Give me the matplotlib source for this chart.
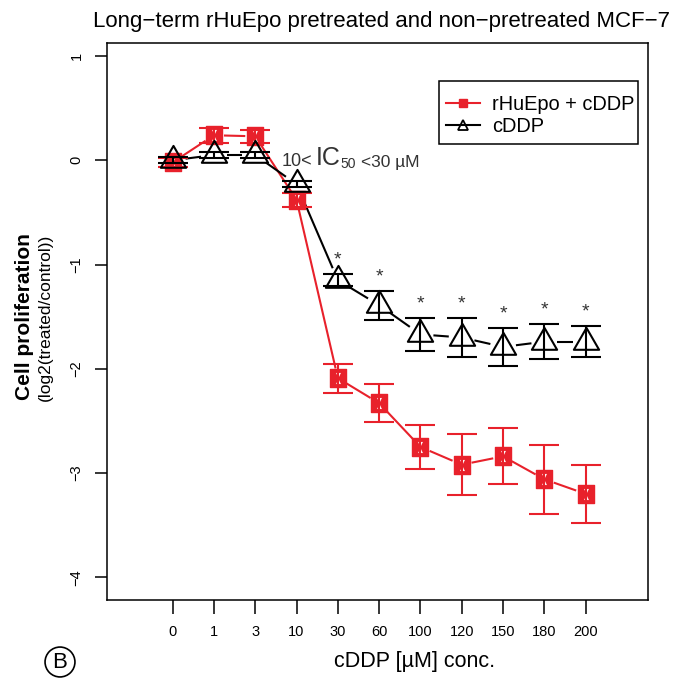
import numpy as np
import matplotlib.pyplot as plt
from matplotlib.path import Path
from matplotlib.lines import Line2D
from matplotlib.patches import Rectangle

plt.rcParams['font.family'] = ['Liberation Sans', 'DejaVu Sans']

# data
conc = ['0', '1', '3', '10', '30', '60', '100', '120', '150', '180', '200']
epo_mean = [-0.02, 0.24, 0.23, -0.38, -2.09, -2.33, -2.75, -2.92, -2.84, -3.06, -3.20]
epo_err = [0.04, 0.07, 0.06, 0.07, 0.14, 0.18, 0.21, 0.29, 0.27, 0.33, 0.28]
cddp_mean = [0.0, 0.05, 0.05, -0.23, -1.15, -1.39, -1.67, -1.70, -1.79, -1.74, -1.74]
cddp_err = [0.03, 0.03, 0.03, 0.03, 0.06, 0.14, 0.16, 0.19, 0.18, 0.17, 0.15]
signif = [False, False, False, False, True, True, True, True, True, True, True]

RED = '#E8212B'
GREY = '#333333'

# R style triangle (pch = 2)
tri = Path([(0, 1.555), (1.347, -0.778), (-1.347, -0.778), (0, 1.555)], closed=True)
box = Path([(-0.42, -0.5), (0.42, -0.5), (0.42, 0.5), (-0.42, 0.5), (-0.42, -0.5)], closed=True)
hourglass = Path([(-0.22, 0.5), (0.22, 0.5), (0, 0.05), (-0.22, 0.5),
                  (-0.22, -0.5), (0.22, -0.5), (0, -0.05), (-0.22, -0.5)],
                 [1, 2, 2, 79, 1, 2, 2, 79])

fig = plt.figure(figsize=(6.91, 6.86), dpi=100)
ax = fig.add_axes([107 / 691, 1 - 600 / 686, 541 / 691, 557 / 686])
ax.set_xlim(-1.59, 11.51)
ax.set_ylim(-4.218, 1.125)

x = np.arange(len(conc))


def gapped_line(xs, ys, color, gap=12):
    # connecting segments that stop short of the markers (R type = "b")
    pts = ax.transData.transform(np.column_stack([xs, ys]))
    inv = ax.transData.inverted()
    for p0, p1 in zip(pts[:-1], pts[1:]):
        d = p1 - p0
        L = np.hypot(*d)
        if L <= 2 * gap:
            continue
        u = d / L
        a = inv.transform(p0 + u * gap)
        b = inv.transform(p1 - u * gap)
        ax.plot([a[0], b[0]], [a[1], b[1]], color=color, lw=1.5, solid_capstyle='butt', zorder=2)


gapped_line(x, epo_mean, RED, gap=10)
gapped_line(x, cddp_mean, 'black', gap=13)

# red series
ax.plot(x, epo_mean, ls='none', marker=box, ms=13, mfc=RED, mec=RED, mew=1.0, zorder=3)
ax.plot(x, epo_mean, ls='none', marker=hourglass, ms=8, mfc='white', mec='none', zorder=4)
ax.errorbar(x, epo_mean, yerr=epo_err, fmt='none', ecolor=RED, elinewidth=1.5,
            capsize=11, capthick=1.5, zorder=5)

# black series
ax.plot(x, cddp_mean, ls='none', marker=tri, ms=21, mfc='none', mec='black', mew=1.5, zorder=6)
ax.errorbar(x, cddp_mean, yerr=cddp_err, fmt='none', ecolor='black', elinewidth=1.5,
            capsize=11, capthick=1.5, zorder=6)

for i in range(len(conc)):
    if signif[i]:
        ax.annotate('*', xy=(x[i], cddp_mean[i] + cddp_err[i]), xytext=(0, 4),
                    textcoords='offset points', ha='center', va='bottom',
                    fontsize=14, color=GREY)

# IC50 note
t1 = ax.text(2.65, -0.09, '10<', fontsize=13, color=GREY, ha='left', va='bottom')
t2 = ax.annotate('IC', xy=(1, 0), xycoords=t1, xytext=(2, 0), textcoords='offset points',
                 fontsize=18, color=GREY, va='bottom')
t3 = ax.annotate('50', xy=(1, 0), xycoords=t2, xytext=(0, -1), textcoords='offset points',
                 fontsize=10, color=GREY, va='bottom')
ax.annotate('<30 \u00b5M', xy=(1, 0), xycoords=t3, xytext=(3.5, 1), textcoords='offset points',
            fontsize=12.5, color=GREY, va='bottom')

ax.set_xticks(x)
ax.set_xticklabels(conc)
ax.set_yticks([-4, -3, -2, -1, 0, 1])
ax.tick_params(axis='x', length=10, width=1.1, pad=8, labelsize=10.5)
ax.tick_params(axis='y', length=9, width=1.1, pad=8, labelsize=10.5, labelrotation=90)
for lab in ax.get_yticklabels():
    lab.set_va('center')
for s in ax.spines.values():
    s.set_linewidth(1.1)

fig.text(415 / 691, 1 - 662 / 686, 'cDDP [\u00b5M] conc.', ha='center', va='center', fontsize=15.5)
fig.text(382 / 691, 1 - 21 / 686, 'Long\u2212term rHuEpo pretreated and non\u2212pretreated MCF\u22127',
         ha='center', va='center', fontsize=16)
fig.text(24 / 691, 1 - 317 / 686, 'Cell proliferation', rotation=90, ha='center', va='center',
         fontsize=15, fontweight='bold')
fig.text(45 / 691, 1 - 317 / 686, '(log2(treated/control))', rotation=90, ha='center', va='center',
         fontsize=12.5)
fig.text(60 / 691, 1 - 662 / 686, 'B', ha='center', va='center', fontsize=16,
         bbox=dict(boxstyle='circle,pad=0.2', fc='none', ec='black', lw=1.2))

# legend: R-style frame drawn separately
handles = [Line2D([], [], color=RED, lw=1.5, marker='s', ms=6, mfc=RED, mec=RED),
           Line2D([], [], color='black', lw=1.5, marker='^', ms=7, mfc='none', mec='black', mew=1.3)]
ax.legend(handles, ['rHuEpo + cDDP', 'cDDP'], loc='upper left',
          bbox_to_anchor=(0.6266, 0.9066), fontsize=14.4, frameon=False,
          borderpad=0, labelspacing=0.15, handlelength=1.7, handletextpad=0.6,
          borderaxespad=0)
ax.add_patch(Rectangle((0.6137, 0.8187), 0.3678, 0.1131, transform=ax.transAxes,
                       fill=False, ec='black', lw=1.1, zorder=7))

fig.savefig('out.png', dpi=100)
